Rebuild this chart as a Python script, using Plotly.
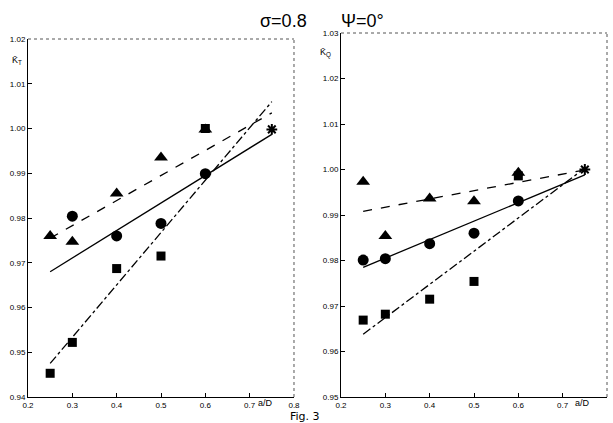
import plotly.graph_objects as go
from plotly.subplots import make_subplots

# a/D values of the measured points
a_d = [0.25, 0.3, 0.4, 0.5, 0.6]
a_d_star = [0.75]

# left panel, K_T
kt_tri = [0.976, 0.9747, 0.9855, 0.9935, 0.9998]
kt_circ = [None, 0.9804, 0.976, 0.9788, 0.9899]
kt_sq = [0.9453, 0.9522, 0.9687, 0.9715, 1.0]
kt_star = [0.9998]

# right panel, K_Q
kq_tri = [0.9973, 0.9854, 0.9936, 0.993, 0.9993]
kq_circ = [0.9801, 0.9804, 0.9837, 0.986, 0.9931]
kq_sq = [0.9669, 0.9682, 0.9715, 0.9754, 0.9986]
kq_star = [1.0]

# fitted lines (end points)
fit_x = [0.25, 0.75]
kt_fit_dash = [0.9755, 1.0035]
kt_fit_solid = [0.968, 0.9987]
kt_fit_dashdot = [0.9475, 1.006]
kq_fit_dash = [0.9908, 0.9999]
kq_fit_solid = [0.9785, 0.9988]
kq_fit_dashdot = [0.9638, 1.0003]

x_ticks = [0.2, 0.3, 0.4, 0.5, 0.6, 0.7, 0.8]
kt_ticks = [0.94, 0.95, 0.96, 0.97, 0.98, 0.99, 1.00, 1.01, 1.02]
kq_ticks = [0.95, 0.96, 0.97, 0.98, 0.99, 1.00, 1.01, 1.02, 1.03]

fig = make_subplots(rows=1, cols=2)


def add_panel(col, tri, circ, sq, star, f_dash, f_solid, f_dd):
    line_w = 1.3
    fig.add_trace(go.Scatter(x=fit_x, y=f_dash, mode="lines",
                             line=dict(color="black", width=line_w, dash="dash")), row=1, col=col)
    fig.add_trace(go.Scatter(x=fit_x, y=f_solid, mode="lines",
                             line=dict(color="black", width=line_w)), row=1, col=col)
    fig.add_trace(go.Scatter(x=fit_x, y=f_dd, mode="lines",
                             line=dict(color="black", width=line_w, dash="dashdot")), row=1, col=col)
    fig.add_trace(go.Scatter(x=a_d, y=tri, mode="markers",
                             marker=dict(symbol="triangle-up", size=12, color="black")), row=1, col=col)
    fig.add_trace(go.Scatter(x=a_d, y=sq, mode="markers",
                             marker=dict(symbol="square", size=9, color="black")), row=1, col=col)
    fig.add_trace(go.Scatter(x=a_d, y=circ, mode="markers",
                             marker=dict(symbol="circle", size=11, color="black")), row=1, col=col)
    fig.add_trace(go.Scatter(x=a_d_star, y=star, mode="markers",
                             marker=dict(symbol="asterisk", size=9,
                                         line=dict(color="black", width=2))), row=1, col=col)


add_panel(1, kt_tri, kt_circ, kt_sq, kt_star, kt_fit_dash, kt_fit_solid, kt_fit_dashdot)
add_panel(2, kq_tri, kq_circ, kq_sq, kq_star, kq_fit_dash, kq_fit_solid, kq_fit_dashdot)

tick_font = dict(family="Liberation Sans", size=8, color="black")
axis_common = dict(showgrid=False, zeroline=False, showline=True, linecolor="black",
                   linewidth=1, ticks="inside", ticklen=4, tickcolor="black",
                   tickfont=tick_font, mirror=False, automargin=False)

fig.update_xaxes(axis_common, range=[0.2, 0.8], tickvals=x_ticks,
                 ticktext=[f"{v:.1f}" for v in x_ticks])
fig.update_xaxes(domain=[0, 0.4594], row=1, col=1)
fig.update_xaxes(domain=[0.5406, 1], row=1, col=2)
fig.update_yaxes(axis_common)
fig.update_yaxes(range=[0.94, 1.02], tickvals=kt_ticks,
                 ticktext=[f"{v:.2f}" for v in kt_ticks], domain=[0, 0.9835], row=1, col=1)
fig.update_yaxes(range=[0.95, 1.03], tickvals=kq_ticks,
                 ticktext=[f"{v:.2f}" for v in kq_ticks], domain=[0, 1], row=1, col=2)

# faint dotted top and right borders like the scan
for xr, yr in [("x domain", "y domain"), ("x2 domain", "y2 domain")]:
    fig.add_shape(type="line", xref=xr, yref=yr, x0=0, x1=1, y0=1, y1=1,
                  line=dict(color="#555555", width=1, dash="dot"))
    fig.add_shape(type="line", xref=xr, yref=yr, x0=1, x1=1, y0=0, y1=1,
                  line=dict(color="#555555", width=1, dash="dot"))

ann_font = dict(family="Liberation Sans", size=9, color="black")
fig.add_annotation(text="K\u0304<sub>T</sub>", xref="x domain", yref="y domain",
                   x=-0.015, y=0.941, xanchor="right", yanchor="middle",
                   showarrow=False, font=ann_font)
fig.add_annotation(text="K\u0304<sub>Q</sub>", xref="x2 domain", yref="y2 domain",
                   x=-0.03, y=0.945, xanchor="right", yanchor="middle",
                   showarrow=False, font=ann_font)
fig.add_annotation(text="a/D", xref="x", yref="y domain", x=0.735, y=0, yshift=-6,
                   yanchor="middle", showarrow=False, font=ann_font)
fig.add_annotation(text="a/D", xref="x2", yref="y2 domain", x=0.745, y=0, yshift=-6,
                   yanchor="middle", showarrow=False, font=ann_font)

title_font = dict(family="Liberation Sans", size=18, color="black")
fig.add_annotation(text="σ=0.8", xref="paper", yref="paper", x=0.442, y=1.0,
                   yshift=12, yanchor="middle", showarrow=False, font=title_font)
fig.add_annotation(text="Ψ=0°", xref="paper", yref="paper", x=0.577, y=1.0,
                   yshift=12, yanchor="middle", showarrow=False, font=title_font)
fig.add_annotation(text="Fig. 3", xref="paper", yref="paper", x=0.478, y=0,
                   yshift=-19, yanchor="middle", showarrow=False,
                   font=dict(family="DejaVu Sans", size=11, color="black"))

fig.update_layout(width=613, height=423, showlegend=False,
                  plot_bgcolor="white", paper_bgcolor="white",
                  margin=dict(l=28, r=6, t=33, b=26))

fig.write_html("out.html", config={"displayModeBar": False},
               post_script="document.body.style.margin='0';")
